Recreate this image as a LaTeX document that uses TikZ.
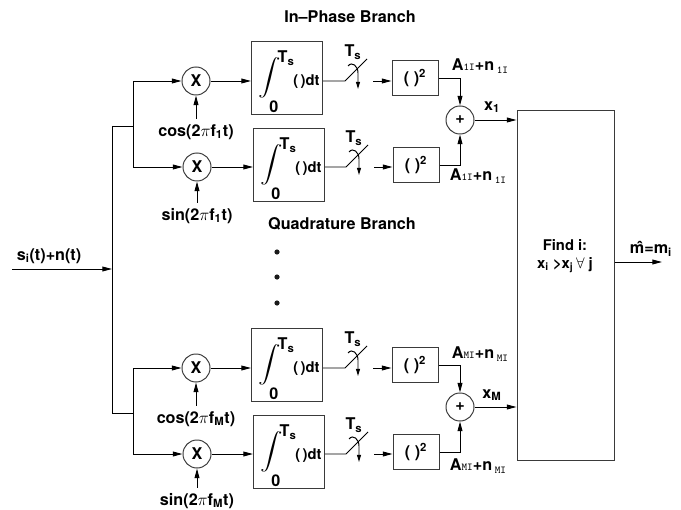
\documentclass[tikz,border=0pt]{standalone}
\usepackage{fontspec}
\setmainfont{TeX Gyre Heros}
\usepackage{graphicx}
\usetikzlibrary{arrows.meta, positioning, calc}
\definecolor{lnclr}{HTML}{1A1A1A}
\definecolor{boxclr}{HTML}{3A3A3A}

% small font for the A/n subscripts
\newcommand{\subfnt}{\ttfamily\mdseries\fontsize{7.5}{7.5}\selectfont}
\newcommand{\Ann}[1]{A{\subfnt #1I}+n\,\raisebox{-0.4ex}{\subfnt #1I}}
% integrator box text
\newcommand{\intgl}{%
  \makebox[50pt][l]{%
    \rlap{\kern5pt$\vcenter{\hbox{\scalebox{1.6}[1.3]{$\displaystyle\int$}}}$}%
    \rlap{\kern18.4pt\smash{\raisebox{14pt}{T\textsubscript{s}}}}%
    \rlap{\kern12.5pt\smash{\raisebox{-21.5pt}{0}}}%
    \kern29.5pt\raisebox{-2pt}{\fontsize{10.5}{12}\selectfont(\,)dt}}}

\tikzset{
  mult/.style={draw=boxclr, circle, minimum size=0.7cm, inner sep=0pt},
  intbox/.style={draw=boxclr, minimum width=1.775cm, minimum height=1.825cm, inner sep=0pt},
  sqbox/.style={draw=boxclr, minimum width=1.15cm, minimum height=0.875cm, inner sep=0pt},
  decbox/.style={draw=boxclr, minimum width=2.425cm, minimum height=8.725cm},
  osc/.style={inner sep=1pt, outer sep=3pt},
  lbl/.style={inner sep=1pt},
  dectxt/.style={inner sep=0pt, font=\bfseries\fontsize{10.5}{12}\selectfont},
  dotm/.style={circle, fill=lnclr, minimum size=0.13cm, inner sep=0pt},
}

\begin{document}
\begin{tikzpicture}[x=0.025cm, y=-0.025cm, >={Triangle[length=2.4mm, width=1.2mm]},
  line width=0.7pt, every node/.append style={font=\bfseries\fontsize{11.5}{13}\selectfont}]

\useasboundingbox (0,0) rectangle (681,510);

% Titles
\node[lbl] (ttlI) at (350,17) {In--Phase Branch};
\node[lbl] (ttlQ) at (342,224) {Quadrature Branch};

% ================================================================
% INPUT AND SPLIT
% ================================================================
\coordinate (inpt) at (12,269);
\coordinate (busT) at (112,126);
\coordinate (busB) at (112,413);
\coordinate (splitT) at (133,126);
\coordinate (splitB) at (133,413);
\node[lbl] (sig) at (49,256) {s\textsubscript{i}(t)+n(t)};
\draw[->] (inpt) -- (inpt -| busT);
\draw (busT) -- (busB);
\draw (busT) -- (splitT);
\draw (busB) -- (splitB);

% Decision box
\node[decbox] (dec) at (565.5,285.5) {};
\node[dectxt] (findtxt) at (565,245) {Find i:};
\node[dectxt] (cmptxt) at (565,265) {x\textsubscript{i} >x\textsubscript{j}$\,\forall$ j};
\coordinate (outEnd) at (662,262);
\draw[->] (outEnd -| dec.east) -- (outEnd);
\node[lbl] (mhat) at (651,249) {\^{m}=m\textsubscript{i}};

% ================================================================
% FIRST PAIR (f_1)
% ================================================================
\begin{scope}

% Multipliers
\node[mult] (mulI1) at (196,81) {X};
\node[mult] (mulQ1) at (197,167) {X};
\draw[->] (splitT) |- (mulI1);
\draw[->] (splitT) |- (mulQ1);

% Oscillators
\node[osc] (cosI1) at (196,132) {cos(2$\pi$f\textsubscript{1}t)};
\node[osc] (sinQ1) at (197,216) {sin(2$\pi$f\textsubscript{1}t)};
\draw[->] (cosI1) -- (mulI1);
\draw[->] (sinQ1) -- (mulQ1);

% Integrators
\node[intbox] (intI1) at (287,78) {\intgl};
\node[intbox] (intQ1) at (289,165) {\intgl};
\draw[->] (mulI1) -- (mulI1 -| intI1.west);
\draw[->] (mulQ1) -- (mulQ1 -| intQ1.west);

% Samplers
\coordinate (swI1) at (345,81);
\coordinate (swQ1) at (346,167);
\draw (swI1 -| intI1.east) -- (swI1) -- ++(22,-22);
\draw (swQ1 -| intQ1.east) -- (swQ1) -- ++(22,-22);
\draw[->, >={Triangle[length=1.8mm, width=1mm]}] ([shift={(3,-15)}]swI1)
  .. controls +(4,-5) and +(0,-7) .. ([shift={(13,-8)}]swI1) -- ([shift={(13,8)}]swI1);
\draw[->, >={Triangle[length=1.8mm, width=1mm]}] ([shift={(3,-15)}]swQ1)
  .. controls +(4,-5) and +(0,-7) .. ([shift={(13,-8)}]swQ1) -- ([shift={(13,8)}]swQ1);
\node[lbl] (tsI1) at ([shift={(8,-29)}]swI1) {T\textsubscript{s}};
\node[lbl] (tsQ1) at ([shift={(8,-29)}]swQ1) {T\textsubscript{s}};

% Squarers
\node[sqbox] (sqI1) at (415,78) {( )\textsuperscript{2}};
\node[sqbox] (sqQ1) at (416,165) {( )\textsuperscript{2}};
\coordinate (swI1o) at (373,81);
\coordinate (swQ1o) at (374,167);
\draw[->] (swI1o) -- (swI1o -| sqI1.west);
\draw[->] (swQ1o) -- (swQ1o -| sqQ1.west);

% Sum
\node[mult] (sum1) at (460,120) {+};
\draw[->] (sqI1.east) -| (sum1);
\draw[->] (sqQ1.east) -| (sum1);
\draw[->] (sum1) -- (sum1 -| dec.west);
\node[lbl] (aI1) at (480,66) {\Ann{1}};
\node[lbl] (aQ1) at (478,176) {\Ann{1}};
\node[lbl] (x1) at (492,107) {x\textsubscript{1}};

\end{scope}

% Dots
\node[dotm] (dotA) at (277,252) {};
\node[dotm] (dotB) at (277,277) {};
\node[dotm] (dotC) at (277,303) {};

% ================================================================
% LAST PAIR (f_M)
% ================================================================
\begin{scope}[shift={(0,287)}]

% Multipliers
\node[mult] (mulIM) at (196,81) {X};
\node[mult] (mulQM) at (197,167) {X};
\draw[->] (splitB) |- (mulIM);
\draw[->] (splitB) |- (mulQM);

% Oscillators
\node[osc] (cosIM) at (196,132) {cos(2$\pi$f\textsubscript{M}t)};
\node[osc] (sinQM) at (197,214) {sin(2$\pi$f\textsubscript{M}t)};
\draw[->] (cosIM) -- (mulIM);
\draw[->] (sinQM) -- (mulQM);

% Integrators
\node[intbox] (intIM) at (287,78) {\intgl};
\node[intbox] (intQM) at (289,165) {\intgl};
\draw[->] (mulIM) -- (mulIM -| intIM.west);
\draw[->] (mulQM) -- (mulQM -| intQM.west);

% Samplers
\coordinate (swIM) at (345,81);
\coordinate (swQM) at (346,167);
\draw (swIM -| intIM.east) -- (swIM) -- ++(22,-22);
\draw (swQM -| intQM.east) -- (swQM) -- ++(22,-22);
\draw[->, >={Triangle[length=1.8mm, width=1mm]}] ([shift={(3,-15)}]swIM)
  .. controls +(4,-5) and +(0,-7) .. ([shift={(13,-8)}]swIM) -- ([shift={(13,8)}]swIM);
\draw[->, >={Triangle[length=1.8mm, width=1mm]}] ([shift={(3,-15)}]swQM)
  .. controls +(4,-5) and +(0,-7) .. ([shift={(13,-8)}]swQM) -- ([shift={(13,8)}]swQM);
\node[lbl] (tsIM) at ([shift={(8,-29)}]swIM) {T\textsubscript{s}};
\node[lbl] (tsQM) at ([shift={(8,-29)}]swQM) {T\textsubscript{s}};

% Squarers
\node[sqbox] (sqIM) at (415,78) {( )\textsuperscript{2}};
\node[sqbox] (sqQM) at (416,165) {( )\textsuperscript{2}};
\coordinate (swIMo) at (373,81);
\coordinate (swQMo) at (374,167);
\draw[->] (swIMo) -- (swIMo -| sqIM.west);
\draw[->] (swQMo) -- (swQMo -| sqQM.west);

% Sum
\node[mult] (sumM) at (460,120) {+};
\draw[->] (sqIM.east) -| (sumM);
\draw[->] (sqQM.east) -| (sumM);
\draw[->] (sumM) -- (sumM -| dec.west);
\node[lbl] (aIM) at (480,67) {\Ann{M}};
\node[lbl] (aQM) at (478,179) {\Ann{M}};
\node[lbl] (xM) at (492,108) {x\textsubscript{M}};

\end{scope}

\end{tikzpicture}
\end{document}
